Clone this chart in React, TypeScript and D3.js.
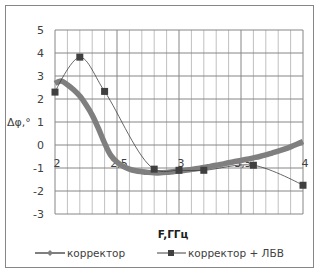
import React from "react";
import * as d3 from "d3";

const corrX = [2.0, 2.05, 2.1, 2.15, 2.2, 2.25, 2.3, 2.35, 2.4, 2.45, 2.5, 2.55, 2.6, 2.65, 2.7, 2.75, 2.8, 2.85, 2.9, 2.95, 3.0, 3.05, 3.1, 3.15, 3.2, 3.25, 3.3, 3.35, 3.4, 3.45, 3.5, 3.55, 3.6, 3.65, 3.7, 3.75, 3.8, 3.85, 3.9, 3.95, 4.0];
const corrY = [2.68, 2.78, 2.62, 2.4, 2.13, 1.75, 1.3, 0.72, 0.08, -0.45, -0.74, -0.93, -1.05, -1.12, -1.16, -1.19, -1.21, -1.21, -1.19, -1.16, -1.13, -1.1, -1.06, -1.02, -0.98, -0.93, -0.88, -0.83, -0.77, -0.72, -0.67, -0.62, -0.56, -0.5, -0.43, -0.35, -0.27, -0.18, -0.08, 0.03, 0.15];
const twtX = [2.0, 2.2, 2.4, 2.8, 3.0, 3.2, 3.6, 4.0];
const twtY = [2.3, 3.82, 2.33, -1.05, -1.1, -1.1, -0.88, -1.75];
const yTicks = [5, 4, 3, 2, 1, 0, -1, -2, -3];
const xTickVals = [2, 2.5, 3, 3.5, 4];
const xTickLabels = ["2", "2,5", "3", "3,5", "4"];
const seriesNames = ["корректор", "корректор + ЛБВ"];

export default function App() {
  const W = 320, H = 273;
  const x = d3.scaleLinear().domain([2, 4]).range([55, 303]);
  const y = d3.scaleLinear().domain([-3, 5]).range([214, 30]);
  const minor = d3.range(0, 21).map((i) => 2 + i * 0.1);
  const corr = corrX.map((v, i) => [v, corrY[i]] as [number, number]);
  const twt = twtX.map((v, i) => [v, twtY[i]] as [number, number]);
  const line = d3.line<[number, number]>().x((d) => x(d[0])).y((d) => y(d[1])).curve(d3.curveCatmullRom.alpha(0.5));
  const font = "'DejaVu Sans', Verdana, sans-serif";
  const diamond = (cx: number, cy: number, r: number) => `M${cx},${cy - r}L${cx + r},${cy}L${cx},${cy + r}L${cx - r},${cy}Z`;
  return (
    <svg width={W} height={H} style={{ position: "absolute", left: 0, top: 0, background: "#fff" }} fontFamily={font}>
      <rect x={5.5} y={5.5} width={308} height={262} fill="#fff" stroke="#868686" />
      {minor.map((v, i) => (
        <line key={"m" + i} x1={x(v)} x2={x(v)} y1={y(5)} y2={y(-3)} stroke={i % 5 === 0 ? "#868686" : "#c0c0c0"} strokeWidth={1} />
      ))}
      {yTicks.map((v) => (
        <line key={"h" + v} x1={x(2)} x2={x(4)} y1={y(v)} y2={y(v)} stroke="#868686" />
      ))}
      {yTicks.map((v) => (
        <text key={"yl" + v} x={44} y={y(v) + 4} textAnchor="end" fontSize={11} fill="#404040">{v}</text>
      ))}
      <text x={7} y={y(1) + 4} fontSize={11} fill="#404040">Δφ,°</text>
      {xTickVals.map((v, i) => (
        <text key={"xl" + i} x={x(v) + 2} y={y(-1) - 1} textAnchor="middle" fontSize={11} fill="#404040">{xTickLabels[i]}</text>
      ))}
      <path d={line(corr) || ""} fill="none" stroke="#7f7f7f" strokeWidth={5.5} strokeLinejoin="round" />
      <path d={line(twt) || ""} fill="none" stroke="#404040" strokeWidth={0.8} />
      {twt.map((d, i) => (
        <rect key={"s" + i} x={x(d[0]) - 3.5} y={y(d[1]) - 3.5} width={7} height={7} fill="#404040" />
      ))}
      <text x={173} y={238} textAnchor="middle" fontSize={10.5} fontWeight="bold" fill="#202020">F,ГГц</text>
      <line x1={35} x2={65} y1={253} y2={253} stroke="#7f7f7f" strokeWidth={2} />
      <path d={diamond(50, 253, 3)} fill="#7f7f7f" />
      <text x={67} y={257} fontSize={10.5} fill="#404040">{seriesNames[0]}</text>
      <line x1={157} x2={186} y1={253} y2={253} stroke="#404040" strokeWidth={1} />
      <rect x={168} y={250} width={6} height={6} fill="#404040" />
      <text x={188} y={257} fontSize={10.5} fill="#404040">{seriesNames[1]}</text>
    </svg>
  );
}
